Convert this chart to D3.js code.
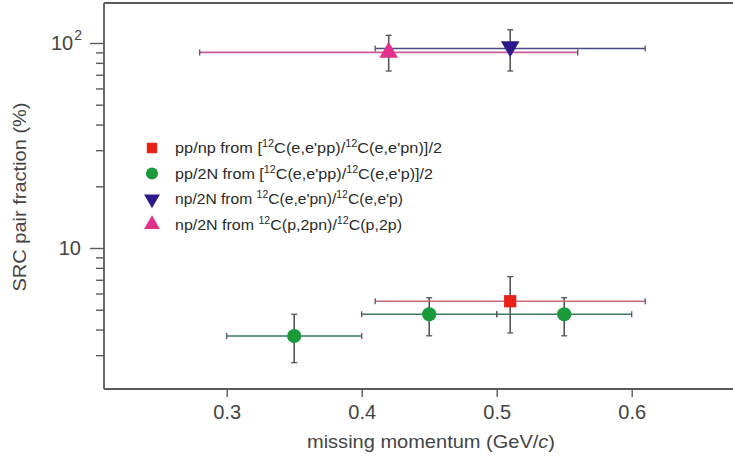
<!DOCTYPE html>
<html><head><meta charset="utf-8">
<script src="https://cdn.jsdelivr.net/npm/d3@7"></script>
<style>body{margin:0;background:#fff}svg{display:block}</style>
</head><body>
<script>
const xTicks = [0.3, 0.4, 0.5, 0.6];
const yMajorTicks = [10, 100];
const yMinorTicks = [3,4,5,6,7,8,9,20,30,40,50,60,70,80,90];
const seriesNames = ["pp/np", "pp/2N", "np/2N (e,e'pn)", "np/2N (p,2pn)"];
// each point: x, y, xlo, xhi, ylo, yhi
const ppnp = [{x:0.51, y:5.5, xlo:0.41, xhi:0.61, ylo:3.85, yhi:7.25}];
const pp2N = [
  {x:0.35, y:3.72, xlo:0.30, xhi:0.40, ylo:2.76, yhi:4.75},
  {x:0.45, y:4.75, xlo:0.40, xhi:0.50, ylo:3.73, yhi:5.72},
  {x:0.55, y:4.75, xlo:0.50, xhi:0.60, ylo:3.73, yhi:5.72}
];
const np2N_e = [{x:0.51, y:94, xlo:0.41, xhi:0.61, ylo:73, yhi:116}];
const np2N_p = [{x:0.42, y:90, xlo:0.28, xhi:0.56, ylo:73, yhi:109}];

const W = 733, H = 459;
const svg = d3.select("body").append("svg").attr("width", W).attr("height", H);
const font = "'Liberation Sans',Arial,sans-serif";

const x = d3.scaleLinear().domain([0.3, 0.6]).range([226.7, 631.7]);
const y = d3.scaleLog().domain([10, 100]).range([248, 43]);
const L = 104, T = 3, B = 389, R = 760;

// frame
const axisCol = "#5a5a5a";
svg.append("line").attr("x1", L).attr("x2", L).attr("y1", T).attr("y2", B).attr("stroke", axisCol).attr("stroke-width", 1.8);
svg.append("line").attr("x1", L).attr("x2", R).attr("y1", T).attr("y2", T).attr("stroke", axisCol).attr("stroke-width", 1.8);
svg.append("line").attr("x1", L).attr("x2", R).attr("y1", B).attr("y2", B).attr("stroke", axisCol).attr("stroke-width", 1.8);

// x axis
const xAxis = d3.axisBottom(x).tickValues(xTicks).tickFormat(d3.format(".1f")).tickSize(8).tickPadding(6);
const gx = svg.append("g").attr("transform", `translate(0,${B})`).call(xAxis);
gx.select(".domain").remove();
gx.selectAll(".tick line").attr("stroke", axisCol).attr("stroke-width", 1.4);
gx.selectAll(".tick text").attr("fill", "#444").style("font-family", font).style("font-size", "20px").attr("dy", "0.8em");

// y axis
const yAxis = d3.axisLeft(y).tickValues(yMajorTicks).tickFormat("").tickSize(14);
const gy = svg.append("g").attr("transform", `translate(${L},0)`).call(yAxis);
gy.select(".domain").remove();
gy.selectAll(".tick line").attr("stroke", axisCol).attr("stroke-width", 1.4);
const gym = svg.append("g").attr("transform", `translate(${L},0)`).call(d3.axisLeft(y).tickValues(yMinorTicks).tickFormat("").tickSize(8));
gym.select(".domain").remove();
gym.selectAll(".tick line").attr("stroke", axisCol).attr("stroke-width", 1.4);

// y tick labels
const lab = svg.append("g").attr("fill", "#444").style("font-family", font);
const t100 = lab.append("text").attr("x", 82).attr("y", y(100) + 7).attr("text-anchor", "end").style("font-size", "20px");
t100.append("tspan").text("10");
t100.append("tspan").attr("dy", -10).attr("dx", 1).style("font-size", "14px").text("2");
lab.append("text").attr("x", 81).attr("y", y(10) + 7).attr("text-anchor", "end").style("font-size", "20px").text("10");

// axis titles
svg.append("text").attr("x", 431).attr("y", 448).attr("text-anchor", "middle").attr("fill", "#444")
  .attr("textLength", 248).attr("lengthAdjust", "spacingAndGlyphs")
  .style("font-family", font).style("font-size", "19px")
  .call(t => { t.append("tspan").text("missing momentum (GeV/"); t.append("tspan").style("font-style", "italic").text("c"); t.append("tspan").text(")"); });
svg.append("text").attr("transform", "translate(26,197) rotate(-90)").attr("text-anchor", "middle").attr("fill", "#444")
  .attr("textLength", 189).attr("lengthAdjust", "spacingAndGlyphs")
  .style("font-family", font).style("font-size", "18px").text("SRC pair fraction (%)");

// error bars
const vCol = "#555";
function errorBars(data, hCol) {
  const g = svg.append("g");
  data.forEach(d => {
    const cy = y(d.y), cx = x(d.x);
    g.append("line").attr("x1", x(d.xlo)).attr("x2", x(d.xhi)).attr("y1", cy).attr("y2", cy).attr("stroke", hCol).attr("stroke-width", 1.6);
    [d.xlo, d.xhi].forEach(v => g.append("line").attr("x1", x(v)).attr("x2", x(v)).attr("y1", cy - 3).attr("y2", cy + 3).attr("stroke", vCol).attr("stroke-width", 1.3));
    g.append("line").attr("x1", cx).attr("x2", cx).attr("y1", y(d.ylo)).attr("y2", y(d.yhi)).attr("stroke", vCol).attr("stroke-width", 1.6);
    [d.ylo, d.yhi].forEach(v => g.append("line").attr("x1", cx - 3).attr("x2", cx + 3).attr("y1", y(v)).attr("y2", y(v)).attr("stroke", vCol).attr("stroke-width", 1.3));
  });
}
errorBars(np2N_p, "#c85a9a");
errorBars(np2N_e, "#4a4a86");
errorBars(pp2N, "#3a7a5a");
errorBars(ppnp, "#c86a78");

const cols = {red: "#e8201a", green: "#1a9a3a", blue: "#2a1a8a", pink: "#e0308a"};
const sym = {
  square: d3.symbol().type(d3.symbolSquare).size(150),
  circle: d3.symbol().type(d3.symbolCircle).size(160),
  tri: d3.symbol().type(d3.symbolTriangle).size(150)
};
function markers(data, path, col, rot) {
  svg.append("g").selectAll("path").data(data).join("path")
    .attr("d", path).attr("fill", col)
    .attr("transform", d => `translate(${x(d.x)},${y(d.y) + (rot ? -2 : 0)}) rotate(${rot || 0})`);
}
markers(np2N_p, sym.tri, cols.pink, 0);
markers(np2N_e, sym.tri, cols.blue, 180);
markers(pp2N, sym.circle, cols.green, 0);
markers(ppnp, sym.square, cols.red, 0);

// legend
const legend = [
  {name: seriesNames[0], sym: sym.square, col: cols.red, rot: 0, len: 267,
   parts: [["pp/np from [", 0], ["12", 1], ["C(e,e'pp)/", 0], ["12", 1], ["C(e,e'pn)]/2", 0]]},
  {name: seriesNames[1], sym: sym.circle, col: cols.green, rot: 0, len: 258,
   parts: [["pp/2N from [", 0], ["12", 1], ["C(e,e'pp)/", 0], ["12", 1], ["C(e,e'p)]/2", 0]]},
  {name: seriesNames[2], sym: sym.tri, col: cols.blue, rot: 180, len: 228,
   parts: [["np/2N from ", 0], ["12", 1], ["C(e,e'pn)/", 0], ["12", 1], ["C(e,e'p)", 0]]},
  {name: seriesNames[3], sym: sym.tri, col: cols.pink, rot: 0, len: 227,
   parts: [["np/2N from ", 0], ["12", 1], ["C(p,2pn)/", 0], ["12", 1], ["C(p,2p)", 0]]}
];
const lg = svg.append("g");
legend.forEach((d, i) => {
  const ly = 148 + i * 25.5;
  lg.append("path").attr("d", d.sym).attr("fill", d.col).attr("transform", `translate(152,${ly}) rotate(${d.rot}) scale(0.85)`);
  const t = lg.append("text").attr("x", 175).attr("y", ly + 5).attr("fill", "#2a2a2a")
    .attr("textLength", d.len).attr("lengthAdjust", "spacingAndGlyphs")
    .style("font-family", font).style("font-size", "15px");
  d.parts.forEach((p, j) => {
    if (p[1]) t.append("tspan").attr("dy", -6).style("font-size", "10px").text(p[0]);
    else {
      const s = t.append("tspan").text(p[0]);
      if (j > 0) s.attr("dy", 6);
    }
  });
});
</script>
</body></html>
